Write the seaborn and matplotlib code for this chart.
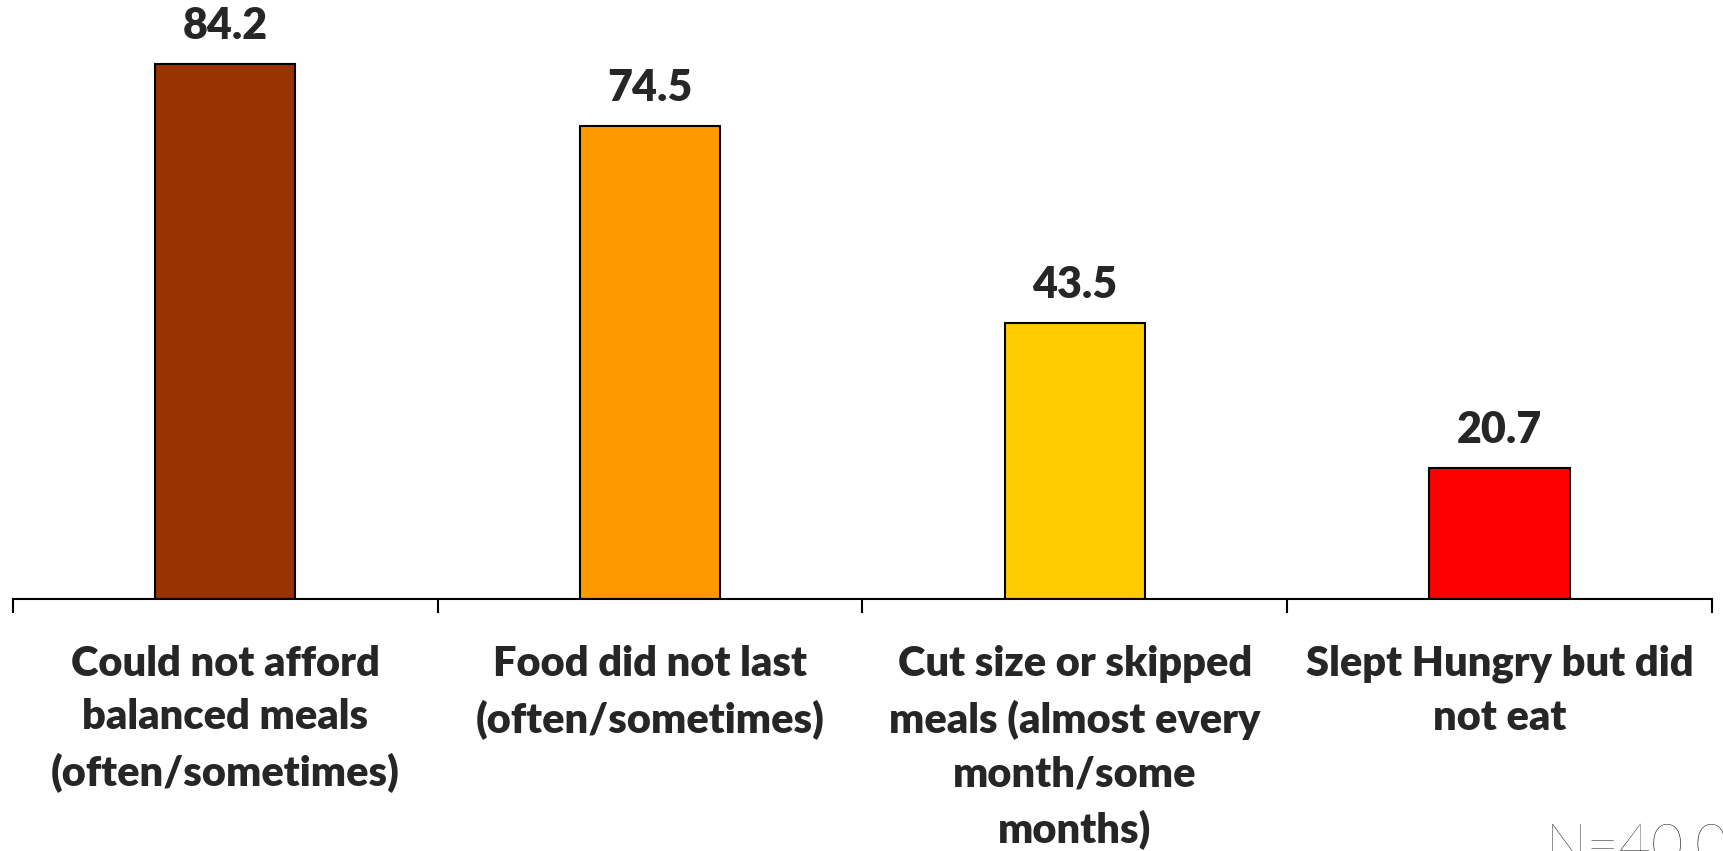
import matplotlib
matplotlib.use("Agg")
import matplotlib.pyplot as plt
import pandas as pd
import seaborn as sns

categories = [
    "Could not afford\nbalanced meals\n(often/sometimes)",
    "Food did not last\n(often/sometimes)",
    "Cut size or skipped\nmeals (almost every\nmonth/some\nmonths)",
    "Slept Hungry but did\nnot eat",
]
values = [84.2, 74.5, 43.5, 20.7]
colors = ["#993300", "#FF9900", "#FFCC00", "#FF0000"]

df = pd.DataFrame({"cat": categories, "val": values})

sns.set_style("white")
plt.rcParams["font.family"] = ["Lato", "DejaVu Sans"]

fig = plt.figure(figsize=(17.23, 8.51), dpi=100)
ax = fig.add_axes([0.0075, 0.296, 0.986, 0.704])

sns.barplot(data=df, x="cat", y="val", hue="cat", palette=colors, legend=False,
            width=0.33, edgecolor="black", linewidth=1.5, saturation=1, ax=ax)

# value labels on top of the bars
for c in ax.containers:
    ax.bar_label(c, fmt="%.1f", padding=13, fontsize=31, fontweight="heavy")

ax.set_ylim(0, 94.3)
ax.set_xlim(-0.5, 3.5)
ax.set_yticks([])
ax.set_xlabel("")
ax.set_ylabel("")
for s in ["left", "top", "right"]:
    ax.spines[s].set_visible(False)
ax.spines["bottom"].set_linewidth(1.5)
ax.spines["bottom"].set_color("black")

# tick marks between the categories, labels under the centres
ax.set_xticks([-0.5, 0.5, 1.5, 2.5, 3.5], minor=True)
ax.tick_params(axis="x", which="minor", length=10, width=1.5, color="black", bottom=True)
ax.tick_params(axis="x", which="major", length=0, pad=33)
ax.set_xticks(range(len(categories)))
ax.set_xticklabels(categories, fontsize=30, fontweight="heavy", linespacing=1.5)

fig.text(0.897, -0.014, "N=40,000", fontsize=40, fontweight="light", va="baseline", ha="left")

fig.savefig("out.png", dpi=100)
